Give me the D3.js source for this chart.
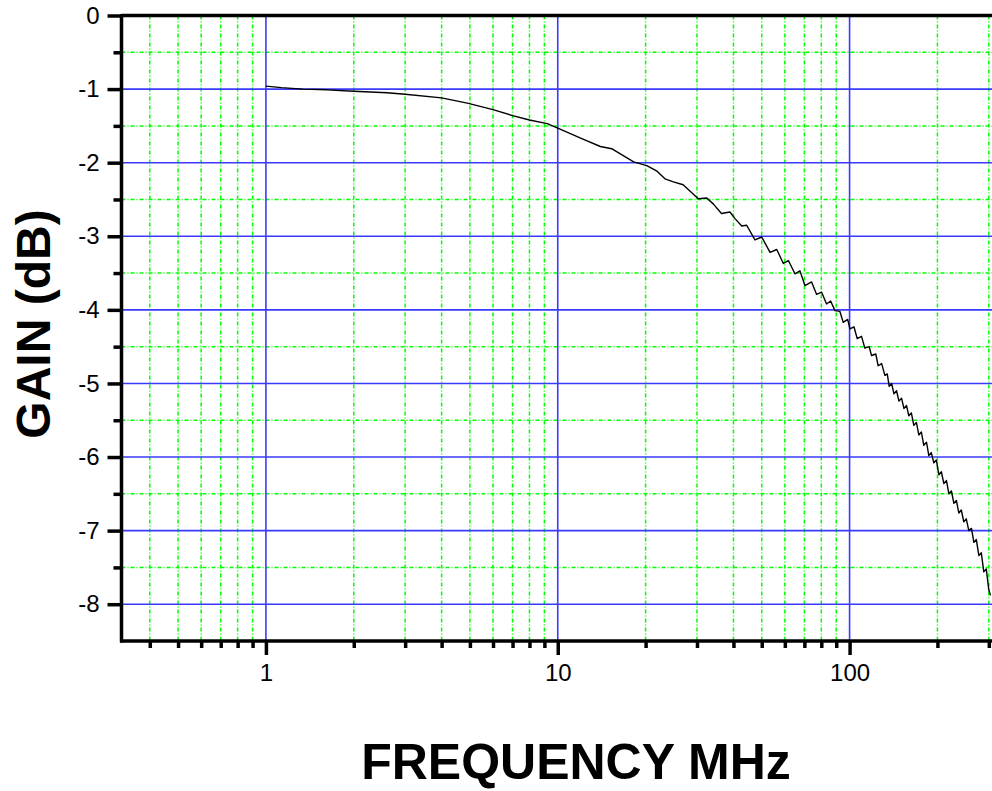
<!DOCTYPE html>
<html>
<head>
<meta charset="utf-8">
<script src="https://cdn.jsdelivr.net/npm/d3@7"></script>
<style>
  html, body { margin: 0; padding: 0; background: #fff; }
  svg { display: block; }
  text { font-family: "Liberation Sans", Arial, Helvetica, sans-serif; }
</style>
</head>
<body>
<div id="chart"></div>
<script>
// ---- data ----
const freqMHz = [1.00, 1.13, 1.34, 1.62, 2.0, 2.6, 3.0, 4.0, 4.9, 6.0, 7.0, 8.0, 9.2, 10.0,
  12.2, 14.0, 15.3, 18.2, 20.2, 21.8, 23.3, 24.9, 26.9, 30.3, 32.4, 34.1, 36.4, 38.9, 40.5,
  42.7, 44.4, 47.4, 50.0, 53.4, 56.3, 59.3, 61.7, 65.0, 67.6,
  70.3, 74.1, 77.1, 80.2, 83.4, 86.1, 89.1, 92.6, 95.1, 98.5, 100.3, 103.5, 106.2, 109.9,
  112.8, 116.7, 118.9, 123.0, 125.3, 128.8, 132.1, 134.6, 136.7, 139.3,
  141.9, 144.9, 147.6, 150.7, 153.5, 156.7, 159.6, 162.8, 166.0, 169.4, 172.7, 176.2,
  179.6, 183.5, 186.9, 190.5, 194.4, 198.3, 202.2, 206.3, 210.4, 214.8, 218.9, 223.3,
  227.7, 232.2, 236.8, 241.5, 246.2, 251.1, 256.2, 261.6, 266.6, 271.8, 277.3, 282.7,
  288.3, 294.0, 299.8, 304.0];
const gainDB = [-0.96, -0.98, -1.00, -1.01, -1.03, -1.05, -1.07, -1.12, -1.19, -1.28, -1.36, -1.42, -1.47, -1.53,
  -1.68, -1.78, -1.81, -1.99, -2.04, -2.11, -2.22, -2.26, -2.30, -2.49, -2.48, -2.56, -2.69, -2.67, -2.76,
  -2.86, -2.85, -3.05, -3.01, -3.22, -3.18, -3.37, -3.33, -3.51, -3.47,
  -3.67, -3.62, -3.79, -3.76, -3.92, -3.88, -4.01, -4.02, -4.17, -4.13, -4.26, -4.23, -4.39, -4.36,
  -4.52, -4.50, -4.62, -4.60, -4.76, -4.73, -4.89, -4.87, -5.04, -5.00,
  -5.14, -5.10, -5.24, -5.20, -5.34, -5.30, -5.44, -5.40, -5.57, -5.53, -5.70, -5.66,
  -5.84, -5.80, -5.98, -5.94, -6.08, -6.04, -6.24, -6.20, -6.36, -6.32, -6.50, -6.46,
  -6.63, -6.59, -6.76, -6.72, -6.88, -6.84, -7.00, -6.97, -7.16, -7.12, -7.34, -7.30,
  -7.56, -7.52, -7.80, -7.88];
const xMajorTicks = [1, 10, 100];
const xMinorTicks = [0.4, 0.5, 0.6, 0.7, 0.8, 0.9, 2, 3, 4, 5, 6, 7, 8, 9,
  20, 30, 40, 50, 60, 70, 80, 90, 200, 300];
const yMajorTicks = [0, -1, -2, -3, -4, -5, -6, -7, -8];
const yMinorTicks = [-0.5, -1.5, -2.5, -3.5, -4.5, -5.5, -6.5, -7.5];
const xTitle = "FREQUENCY MHz";
const yTitle = "GAIN (dB)";

// ---- layout ----
const W = 992, H = 791;
const pLeft = 121.5, pRight = 997, pTop = 15.5, pBottom = 641;

const svg = d3.select("#chart").append("svg").attr("width", W).attr("height", H);

const x = d3.scaleLog().domain([0.32, 320]).range([pLeft, pRight]);
const y = d3.scaleLinear().domain([-8.5, 0]).range([pBottom, pTop]);

const grid = svg.append("g");
// minor green dotted grid
grid.selectAll(".vmin").data(xMinorTicks).enter().append("line")
  .attr("x1", d => x(d)).attr("x2", d => x(d)).attr("y1", pTop).attr("y2", pBottom)
  .attr("stroke", "#00ff00").attr("stroke-width", 1.5).attr("stroke-dasharray", "4,2,1,2");
grid.selectAll(".hmin").data(yMinorTicks).enter().append("line")
  .attr("x1", pLeft).attr("x2", W).attr("y1", d => y(d)).attr("y2", d => y(d))
  .attr("stroke", "#00ff00").attr("stroke-width", 1.5).attr("stroke-dasharray", "4,2,1,2");
// major blue grid
grid.selectAll(".vmaj").data(xMajorTicks).enter().append("line")
  .attr("x1", d => x(d)).attr("x2", d => x(d)).attr("y1", pTop).attr("y2", pBottom)
  .attr("stroke", "#3a3aff").attr("stroke-width", 1.6);
grid.selectAll(".hmaj").data(yMajorTicks.filter(d => d !== 0)).enter().append("line")
  .attr("x1", pLeft).attr("x2", W).attr("y1", d => y(d)).attr("y2", d => y(d))
  .attr("stroke", "#3a3aff").attr("stroke-width", 1.6);

// curve
const pts = freqMHz.map((f, i) => [f, gainDB[i]]);
svg.append("path")
  .datum(pts)
  .attr("fill", "none")
  .attr("stroke", "#000")
  .attr("stroke-width", 1.4)
  .attr("stroke-linejoin", "round")
  .attr("d", d3.line().x(d => x(d[0])).y(d => y(d[1])));

// axes
const axY = d3.axisLeft(y).tickValues(yMajorTicks).tickSize(14).tickPadding(8)
  .tickFormat(d => String(d));
const gy = svg.append("g").attr("transform", `translate(${pLeft},0)`).call(axY);
gy.select(".domain").remove();
gy.selectAll(".tick line").attr("stroke", "#000").attr("stroke-width", 3.5);
gy.selectAll(".tick text").attr("font-size", 24).attr("fill", "#000")
  .attr("font-family", "'Liberation Sans', Arial, sans-serif");
const axYm = d3.axisLeft(y).tickValues(yMinorTicks).tickSize(8).tickFormat("");
const gym = svg.append("g").attr("transform", `translate(${pLeft},0)`).call(axYm);
gym.select(".domain").remove();
gym.selectAll(".tick line").attr("stroke", "#000").attr("stroke-width", 3.5);

const axX = d3.axisBottom(x).tickValues(xMajorTicks).tickSize(14).tickPadding(9)
  .tickFormat(d => String(d));
const gx = svg.append("g").attr("transform", `translate(0,${pBottom})`).call(axX);
gx.select(".domain").remove();
gx.selectAll(".tick line").attr("stroke", "#000").attr("stroke-width", 3.5);
gx.selectAll(".tick text").attr("font-size", 24).attr("fill", "#000")
  .attr("font-family", "'Liberation Sans', Arial, sans-serif");
const axXm = d3.axisBottom(x).tickValues(xMinorTicks).tickSize(7).tickFormat("");
const gxm = svg.append("g").attr("transform", `translate(0,${pBottom})`).call(axXm);
gxm.select(".domain").remove();
gxm.selectAll(".tick line").attr("stroke", "#000").attr("stroke-width", 3.5);

// frame lines (left, bottom, top)
svg.append("line").attr("x1", pLeft).attr("x2", pLeft).attr("y1", pTop - 1.5).attr("y2", pBottom + 1.5)
  .attr("stroke", "#000").attr("stroke-width", 3.5);
svg.append("line").attr("x1", pLeft - 1.5).attr("x2", W).attr("y1", pBottom).attr("y2", pBottom)
  .attr("stroke", "#000").attr("stroke-width", 3.5);
svg.append("line").attr("x1", pLeft).attr("x2", W).attr("y1", pTop).attr("y2", pTop)
  .attr("stroke", "#000").attr("stroke-width", 3.5);

// titles
svg.append("text").text(xTitle)
  .attr("x", 576).attr("y", 779).attr("text-anchor", "middle")
  .attr("font-size", 50).attr("font-weight", "bold").attr("fill", "#000");
svg.append("text").text(yTitle)
  .attr("transform", "translate(50,324) rotate(-90)").attr("text-anchor", "middle")
  .attr("font-size", 48).attr("font-weight", "bold").attr("fill", "#000");
</script>
</body>
</html>
